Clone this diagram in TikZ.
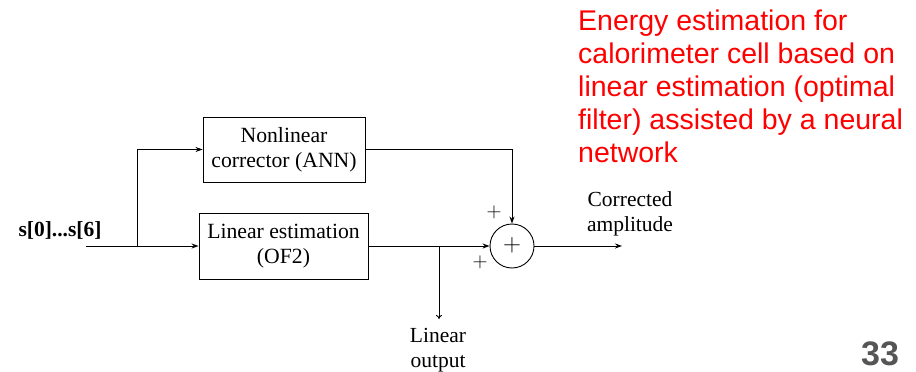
\documentclass[tikz,border=0pt]{standalone}
\usepackage{fontspec}
\setmainfont{Liberation Serif}
\newfontfamily\redfont{Liberation Sans}
\usetikzlibrary{arrows.meta,calc}
\definecolor{slidered}{RGB}{255,0,0}
\definecolor{pagegray}{RGB}{85,85,85}
\begin{document}
\begin{tikzpicture}[x=1pt,y=-1pt,
  blk/.style={draw,line width=0.9pt,minimum width=#1,minimum height=65pt,align=center,inner sep=0pt,font=\fontsize{21.7}{25}\selectfont},
  lbl/.style={align=center,inner sep=0pt,font=\fontsize{21.5}{25}\selectfont},
  wire/.style={line width=0.9pt},
  arr/.style={wire,-{Stealth[length=7pt,width=5pt]}},
  arro/.style={wire,-{To[length=4pt,width=6pt]}}]
\useasboundingbox (0,0) rectangle (916,372);
\node[blk=162pt] (nl) at (284,149.5) {Nonlinear\\corrector (ANN)};
\node[blk=169pt,minimum height=66pt] (le) at (283.5,246) {Linear estimation\\(OF2)};
\node[draw,circle,line width=0.9pt,minimum size=44pt,inner sep=0pt] (sum) at (512,246) {};
\node[font=\fontsize{24}{24}\selectfont] (sp) at (512,245) {$+$};
\node[font=\fontsize{21.5}{22}\selectfont\bfseries] (in) at (60,230) {s[0]...s[6]};
\coordinate (start) at (86,246);
\coordinate (br) at (137,246);
\coordinate (tap) at (439,246);
\coordinate (lo) at (439,319);
\coordinate (out) at (622,246);
\node[lbl,anchor=north] (lotxt) at (438,328) {Linear\\output};
\node[lbl] (cotxt) at (630,214) {Corrected\\amplitude};
\node[font=\fontsize{22}{22}\selectfont] (p1) at (494,212) {$+$};
\node[font=\fontsize{22}{22}\selectfont] (p2) at (480,262) {$+$};
\draw[wire] (start) -- (br);
\draw[arr] (br) -- (le.west);
\draw[arr] (br) |- (nl.west);
\draw[arr] (nl.east) -| (sum.north);
\draw[arr] (le.east) -- (sum.west);
\draw[arro] (tap) -- (lo);
\draw[arr] (sum.east) -- (out);
\node[anchor=north west,align=left,inner sep=0pt,text=slidered,font=\redfont\fontsize{28.5}{33}\selectfont] (red) at (578,10) {Energy estimation for\\calorimeter cell based on\\linear estimation (optimal\\filter) assisted by a neural\\network};
\node[text=pagegray,font=\redfont\bfseries\fontsize{34}{34}\selectfont] (pg) at (880,353.5) {33};
\end{tikzpicture}
\end{document}
